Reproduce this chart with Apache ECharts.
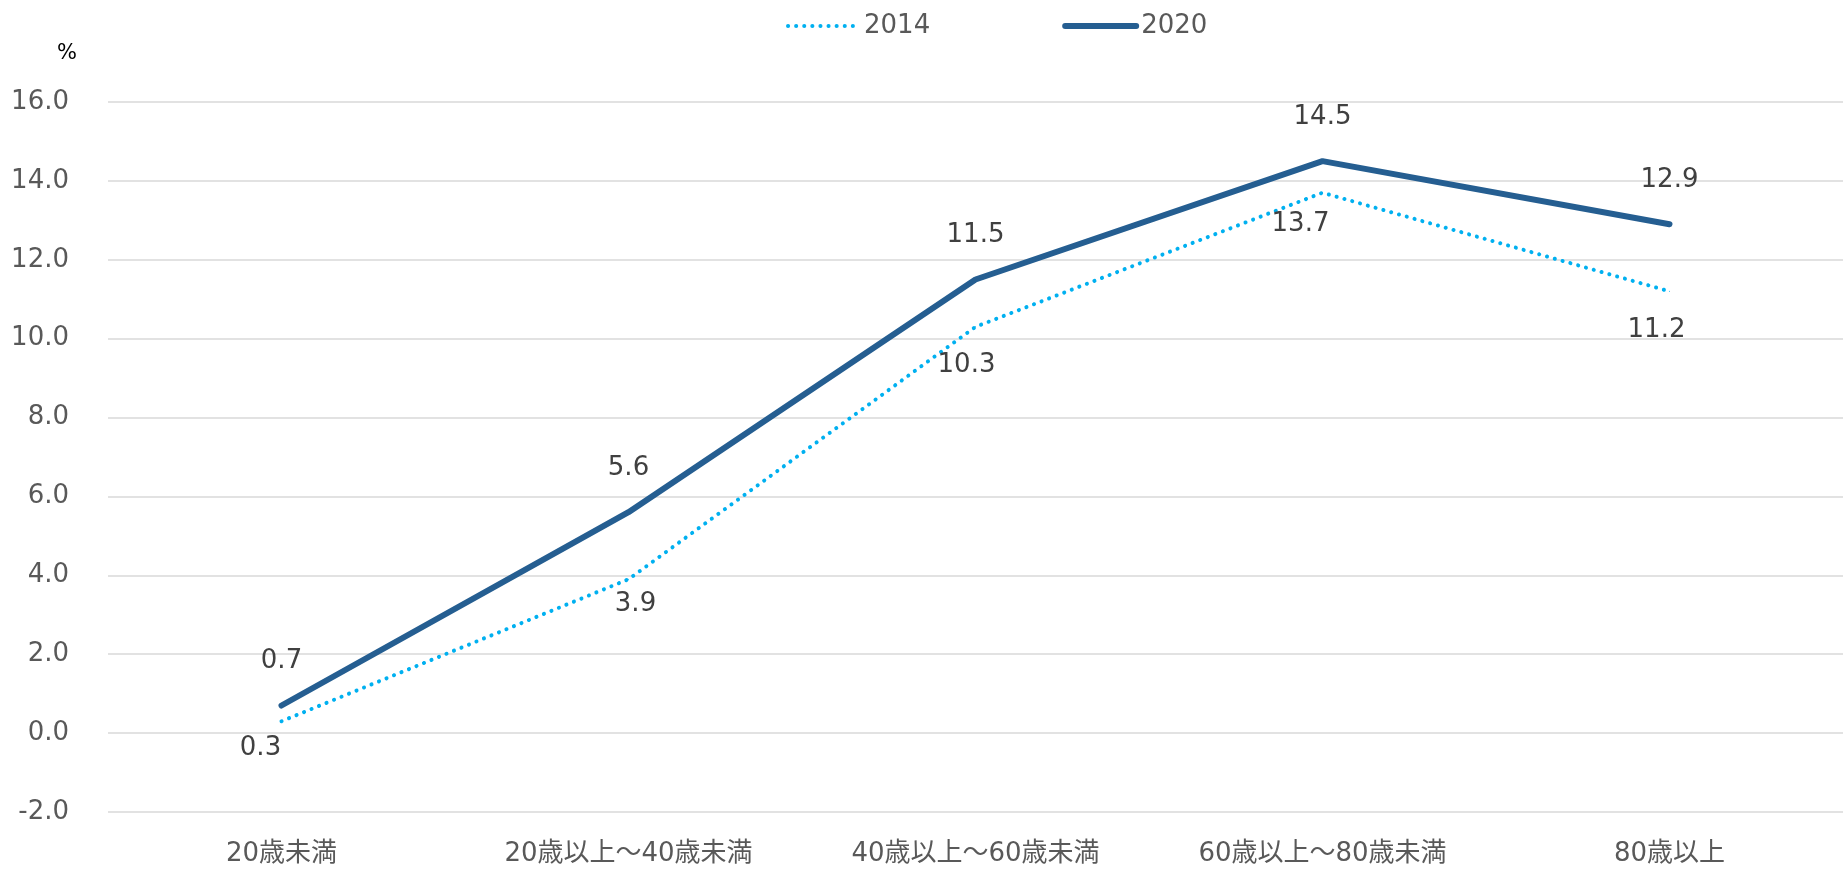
<!DOCTYPE html>
<html>
<head>
<meta charset="utf-8">
<script src="https://cdn.jsdelivr.net/npm/echarts@6/dist/echarts.min.js"></script>
<style>
html, body { margin: 0; padding: 0; background: #fff; }
#main { width: 1843px; height: 869px; }
</style>
</head>
<body>
<div id="main"></div>
<script>
// 年齢区分
var categories = ['20歳未満', '20歳以上～40歳未満', '40歳以上～60歳未満', '60歳以上～80歳未満', '80歳以上'];
var series2014 = [0.3, 3.9, 10.3, 13.7, 11.2];
var series2020 = [0.7, 5.6, 11.5, 14.5, 12.9];
var yTicks = { min: -2, max: 16, interval: 2 };

// ラベルのずれ（Excel側で手動調整されている）
var labelShift2014 = [[-21, 27], [7, 25], [-9, 38], [-22, 32], [-13, 39]];

var FONT = "'DejaVu Sans', 'Noto Sans CJK JP', sans-serif";
var dot2014 = { color: '#00b0f0', width: 4, type: [0.1, 8], cap: 'round' };
var solid2020 = { color: '#255e91', width: 6, cap: 'round', join: 'round' };

function buildData(values, shifts, defShift){
	var arr = [];
	for(var i=0;i<values.length;i++){
		var s = shifts ? shifts[i] : defShift;
		arr.push({
			value: values[i],
			label: { offset: s }
		});
	}
	return arr;
}

var myChart = echarts.init(document.getElementById('main'));
var option = {
	animation: false,
	backgroundColor: '#ffffff',
	title: {
		text: '%',
		left: 52,
		top: 38,
		textStyle: { color: '#000000', fontSize: 21, fontWeight: 'normal', fontFamily: FONT }
	},
	legend: {
		data: [
			{ name: '2014', itemStyle: { opacity: 0 }, lineStyle: dot2014 },
			{ name: '2020', itemStyle: { opacity: 0 }, lineStyle: solid2020 }
		],
		left: 781,
		top: 8,
		itemWidth: 71,
		itemHeight: 8,
		itemGap: 132,
		textStyle: { color: '#595959', fontSize: 26, fontFamily: FONT }
	},
	grid: {
		left: 108,
		top: 102,
		width: 1744,
		height: 710
	},
	xAxis: {
		type: 'category',
		data: categories,
		axisLine: { show: false },
		axisTick: { show: false },
		axisLabel: {
			color: '#595959',
			fontSize: 26,
			fontFamily: FONT,
			margin: 29
		}
	},
	yAxis: {
		type: 'value',
		min: yTicks.min,
		max: yTicks.max,
		interval: yTicks.interval,
		axisLine: { show: false },
		axisTick: { show: false },
		axisLabel: {
			color: '#595959',
			fontSize: 26,
			fontFamily: FONT,
			margin: 39,
			formatter: function(v){ return v.toFixed(1); }
		},
		splitLine: {
			lineStyle: { color: '#d9d9d9', width: 1.5 }
		}
	},
	series: [
		{
			name: '2014',
			type: 'line',
			data: buildData(series2014, labelShift2014),
			symbol: 'circle',
			symbolSize: 1,
			itemStyle: { color: '#00b0f0' },
			lineStyle: dot2014,
			label: {
				show: true,
				position: 'inside',
				color: '#404040',
				fontSize: 26,
				fontFamily: FONT,
				formatter: function(p){ return p.value.toFixed(1); }
			},
			z: 2
		},
		{
			name: '2020',
			type: 'line',
			data: buildData(series2020, null, [0, -44]),
			symbol: 'circle',
			symbolSize: 1,
			itemStyle: { color: '#255e91' },
			lineStyle: solid2020,
			label: {
				show: true,
				position: 'inside',
				color: '#404040',
				fontSize: 26,
				fontFamily: FONT,
				formatter: function(p){ return p.value.toFixed(1); }
			},
			z: 3
		}
	]
};
myChart.setOption(option);
</script>
</body>
</html>
